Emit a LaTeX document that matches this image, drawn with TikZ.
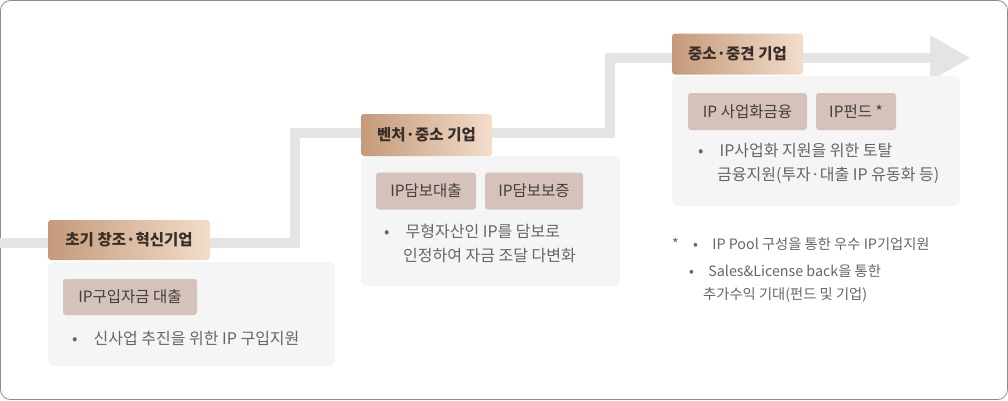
\documentclass[tikz,border=0pt]{standalone}
\usepackage{fontspec}
\setmainfont{Noto Sans CJK KR}
\usetikzlibrary{calc}
\definecolor{stair}{HTML}{E4E4E4}
\definecolor{card}{HTML}{F5F5F5}
\definecolor{chip}{HTML}{D5C2BA}
\definecolor{txt}{HTML}{666666}
\definecolor{hd}{HTML}{3A2E28}
\definecolor{hl}{HTML}{C49A7A}
\definecolor{hr}{HTML}{F2DDCB}
\begin{document}
\begin{tikzpicture}[x=1pt,y=-1pt,
  cardbox/.style={fill=card,rounded corners=6pt,draw=none},
  hdbox/.style={left color=hl,right color=hr,rounded corners=3pt,draw=none,text=hd,font=\fontsize{15.5}{17}\selectfont\bfseries,inner sep=0pt},
  chipbox/.style={fill=chip,rounded corners=3pt,text=black!75,font=\fontsize{15.5}{17}\selectfont,inner sep=0pt},
  bul/.style={text=txt,font=\fontsize{16}{24}\selectfont,anchor=north west,align=left,inner sep=0pt}]
\useasboundingbox (0,0) rectangle (1008,400);
\draw[black!45,rounded corners=10pt,line width=0.8pt] (0.5,0.5) rectangle (1007.5,399.5);
% stair
\coordinate (s0) at (0,243);
\coordinate (s1) at (295,243);
\coordinate (s2) at (295,133);
\coordinate (s3) at (610,133);
\coordinate (s4) at (610,58);
\coordinate (s5) at (932,58);
\draw[stair,line width=10pt] (s0)--(s1)--(s2)--(s3)--(s4)--(s5);
\fill[stair] (930,35)--(970,58)--(930,81)--cycle;
% stage 1
\fill[cardbox] (48,262) rectangle (335,366);
\node[hdbox,minimum width=162pt,minimum height=40pt] (h1) at (129,240) {초기 창조·혁신기업};
\node[chipbox,minimum width=134pt,minimum height=36pt] (c1) at (130,297) {IP구입자금 대출};
\node[bul] (b1) at (72,331) {•\quad 신사업 추진을 위한 IP 구입지원};
% stage 2
\fill[cardbox] (361,156) rectangle (620,286);
\node[hdbox,minimum width=131pt,minimum height=42pt] (h2) at (426.5,135) {벤처·중소 기업};
\node[chipbox,minimum width=100pt,minimum height=37pt] (c21) at (426,191) {IP담보대출};
\node[chipbox,minimum width=98pt,minimum height=37pt] (c22) at (534,191) {IP담보보증};
\node[bul] (b2) at (384,224) {•\quad 무형자산인 IP를 담보로\\\hspace{19pt}인정하여 자금 조달 다변화};
% stage 3
\fill[cardbox] (672,76) rectangle (960,206);
\node[hdbox,minimum width=131pt,minimum height=41pt] (h3) at (737.5,54) {중소·중견 기업};
\node[chipbox,minimum width=119pt,minimum height=37pt] (c31) at (747.5,111.5) {IP 사업화금융};
\node[chipbox,minimum width=80pt,minimum height=37pt] (c32) at (856,111.5) {IP펀드 *};
\node[bul] (b3) at (698,143) {•\quad IP사업화 지원을 위한 토탈\\\hspace{19pt}금융지원(투자·대출 IP 유동화 등)};
% note
\node[bul,font=\fontsize{14.3}{23}\selectfont] (n1) at (672,237) {*\quad •\quad IP Pool 구성을 통한 우수 IP기업지원};
\node[bul,font=\fontsize{14.3}{23}\selectfont] (n2) at (689,264) {•\quad Sales\&License back을 통한\\\hspace{14pt}추가수익 기대(펀드 및 기업)};
\end{tikzpicture}
\end{document}
